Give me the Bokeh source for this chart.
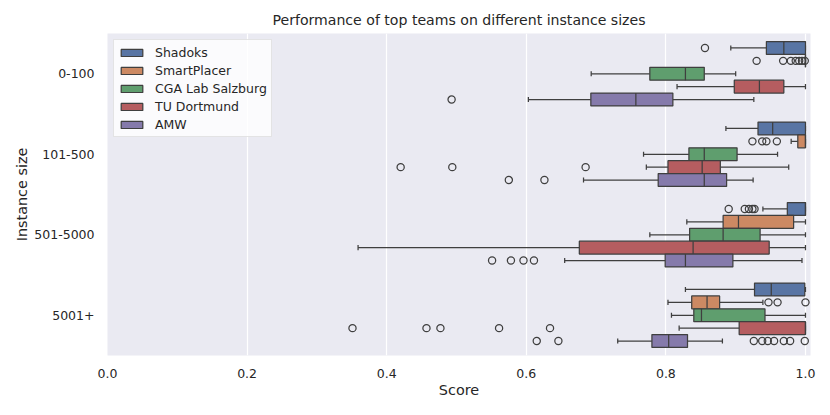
from bokeh.plotting import figure
from bokeh.models import ColumnDataSource, FactorRange, Range1d, FixedTicker, PrintfTickFormatter
from bokeh.transform import dodge
from bokeh.embed import file_html
from bokeh.resources import INLINE

GROUPS = ["0-100", "101-500", "501-5000", "5001+"]
TEAMS = ["Shadoks", "SmartPlacer", "CGA Lab Salzburg", "TU Dortmund", "AMW"]
COLORS = ["#5975a4", "#cc8963", "#5f9e6e", "#b55d60", "#857aab"]
X_TICKS = [0.0, 0.2, 0.4, 0.6, 0.8, 1.0]

# box statistics per team, one value per instance-size group
shadoks = dict(lo=[0.893, 0.886, 0.939, 0.828], q1=[0.944, 0.932, 0.974, 0.927],
               med=[0.969, 0.953, 1.0, 0.951], q3=[1.0, 1.0, 1.0, 0.999], hi=[1.0, 1.0, 1.0, 1.0])
smartplacer = dict(lo=[1.0, 0.9795, 0.830, 0.803], q1=[1.0, 0.989, 0.882, 0.837],
                   med=[1.0, 1.0, 0.904, 0.859], q3=[1.0, 1.0, 0.983, 0.877], hi=[1.0, 1.0, 1.0, 0.939])
cga = dict(lo=[0.693, 0.768, 0.777, 0.808], q1=[0.777, 0.833, 0.834, 0.840],
           med=[0.828, 0.855, 0.882, 0.851], q3=[0.855, 0.902, 0.935, 0.942], hi=[0.900, 0.960, 1.0, 1.0])
tu_dortmund = dict(lo=[0.816, 0.772, 0.359, 0.819], q1=[0.898, 0.803, 0.676, 0.905],
                   med=[0.934, 0.852, 0.839, 1.0], q3=[0.969, 0.878, 0.948, 1.0], hi=[1.0, 0.976, 1.0, 1.0])
amw = dict(lo=[0.603, 0.682, 0.655, 0.731], q1=[0.6925, 0.789, 0.799, 0.780],
           med=[0.757, 0.855, 0.828, 0.804], q3=[0.810, 0.887, 0.896, 0.831], hi=[0.926, 0.925, 0.995, 0.881])

# outliers per team: list per group
shadoks_out = [[0.856], [], [0.890, 0.913, 0.919, 0.924, 0.927], []]
smartplacer_out = [[0.930, 0.968, 0.979, 0.986, 0.991, 0.995, 0.999], [0.924, 0.938, 0.944, 0.959], [], [0.947, 0.960, 1.0]]
cga_out = [[], [], [], []]
tu_dortmund_out = [[], [0.420, 0.494, 0.685], [], [0.351, 0.457, 0.477, 0.561, 0.634]]
amw_out = [[0.493], [0.575, 0.626], [0.551, 0.578, 0.596, 0.611],
           [0.615, 0.646, 0.926, 0.938, 0.946, 0.955, 0.969, 0.978, 0.999]]

STATS = [shadoks, smartplacer, cga, tu_dortmund, amw]
OUTLIERS = [shadoks_out, smartplacer_out, cga_out, tu_dortmund_out, amw_out]

EDGE = "#3f3f3f"
FONT = "DejaVu Sans"
SLOT = 0.16

p = figure(width=830, height=415, output_backend="svg", toolbar_location=None,
           y_range=FactorRange(factors=list(reversed(GROUPS)), range_padding=0),
           x_range=Range1d(0, 1.0072),
           title="Performance of top teams on different instance sizes",
           min_border_left=107, min_border_right=20, min_border_top=33, min_border_bottom=60)

p.background_fill_color = "#eaeaf2"
p.border_fill_color = "white"
p.outline_line_color = None
p.xgrid.grid_line_color = "white"
p.xgrid.grid_line_width = 1.2
p.ygrid.grid_line_color = None

p.title.align = "center"
p.title.text_font = FONT
p.title.text_font_size = "14.1px"
p.title.text_font_style = "normal"
p.title.text_color = "#262626"
p.title.standoff = 12

for ax in (p.xaxis, p.yaxis):
    ax.axis_line_color = None
    ax.major_tick_line_color = None
    ax.minor_tick_line_color = None
    ax.major_tick_out = 0
    ax.major_tick_in = 0
    ax.minor_tick_out = 0
    ax.minor_tick_in = 0
    ax.major_label_text_font = FONT
    ax.major_label_text_font_size = "12.5px"
    ax.major_label_text_color = "#262626"
    ax.axis_label_text_font = FONT
    ax.axis_label_text_font_size = "14.4px"
    ax.axis_label_text_font_style = "normal"
    ax.axis_label_text_color = "#262626"

p.xaxis.major_label_standoff = 13
p.yaxis.major_label_standoff = 13
p.xaxis.axis_label_standoff = 1
p.yaxis.axis_label_standoff = 1
p.xaxis.ticker = FixedTicker(ticks=X_TICKS)
p.xaxis.formatter = PrintfTickFormatter(format="%.1f")
p.xaxis.axis_label = "Score"
p.yaxis.axis_label = "Instance size"

for i, (team, color, st, outs) in enumerate(zip(TEAMS, COLORS, STATS, OUTLIERS)):
    off = (2 - i) * SLOT
    src = ColumnDataSource(dict(group=GROUPS, **st))
    yc = dodge("group", off, range=p.y_range)
    ylo_cap = dodge("group", off - 0.032, range=p.y_range)
    yhi_cap = dodge("group", off + 0.032, range=p.y_range)
    ylo_box = dodge("group", off - SLOT / 2, range=p.y_range)
    yhi_box = dodge("group", off + SLOT / 2, range=p.y_range)

    p.segment(x0="lo", x1="q1", y0=yc, y1=yc, source=src, line_color=EDGE, line_width=1.25)
    p.segment(x0="q3", x1="hi", y0=yc, y1=yc, source=src, line_color=EDGE, line_width=1.25)
    p.segment(x0="lo", x1="lo", y0=ylo_cap, y1=yhi_cap, source=src, line_color=EDGE, line_width=1.25)
    p.segment(x0="hi", x1="hi", y0=ylo_cap, y1=yhi_cap, source=src, line_color=EDGE, line_width=1.25)
    p.hbar(y=yc, left="q1", right="q3", height=SLOT, source=src, fill_color=color,
           line_color=EDGE, line_width=1.25, legend_label=team)
    p.segment(x0="med", x1="med", y0=ylo_box, y1=yhi_box, source=src, line_color=EDGE, line_width=1.25)

    og, ov = [], []
    for g, vals in zip(GROUPS, outs):
        for v in vals:
            og.append(g)
            ov.append(v)
    if ov:
        osrc = ColumnDataSource(dict(group=og, v=ov))
        p.scatter(x="v", y=dodge("group", off, range=p.y_range), source=osrc, size=7.2,
                  fill_color=None, line_color=EDGE, line_width=1.25)

lg = p.legend[0]
lg.location = "top_left"
lg.margin = 6
lg.padding = 4
lg.spacing = 2
lg.label_height = 16
lg.glyph_height = 9
lg.glyph_width = 27
lg.label_standoff = 10
lg.label_text_font = FONT
lg.label_text_font_size = "12.5px"
lg.label_text_color = "#262626"
lg.background_fill_color = "#ffffff"
lg.background_fill_alpha = 0.8
lg.border_line_color = "#cccccc"
lg.border_line_width = 1

open("out.html", "w").write(file_html(p, INLINE))
